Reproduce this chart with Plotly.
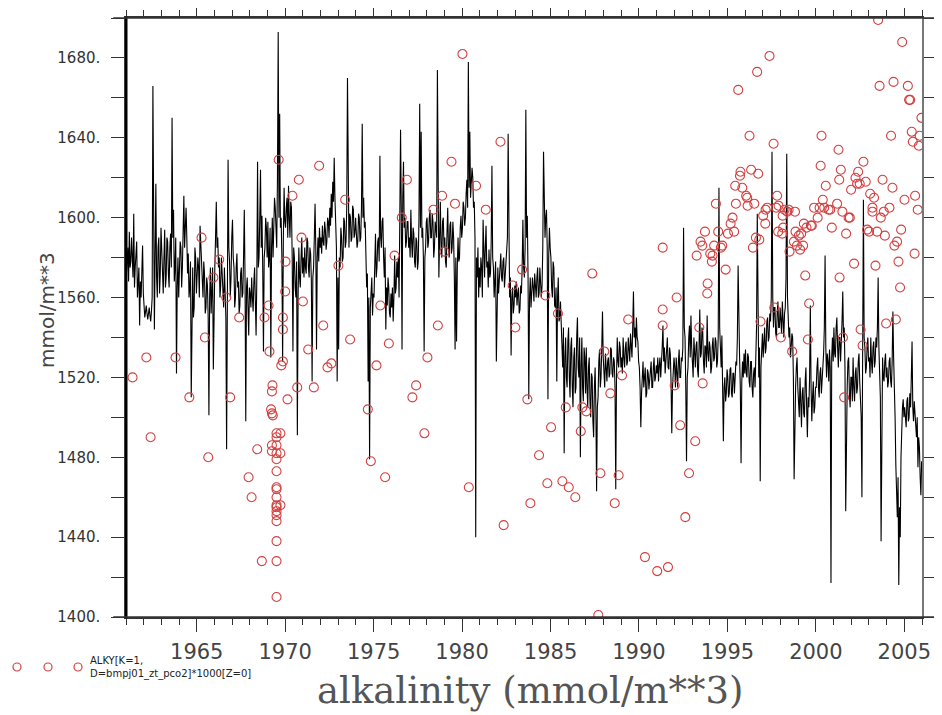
import plotly.graph_objects as go

# model alkalinity, half-monthly values, one row per year 1961..2005
model_start = 1961
model_rows = [
    [1571, 1580, 1585, 1568, 1593, 1575, 1578, 1590, 1582, 1570, 1602, 1565, 1575, 1583, 1588, 1560, 1565, 1575, 1546, 1568, 1560, 1572, 1586, 1562],  # 1961
    [1558, 1550, 1553, 1556, 1552, 1549, 1552, 1555, 1551, 1548, 1553, 1560, 1666, 1575, 1544, 1580, 1617, 1570, 1560, 1585, 1590, 1562, 1572, 1595],
    [1585, 1570, 1562, 1580, 1594, 1565, 1570, 1590, 1588, 1572, 1565, 1585, 1592, 1575, 1650, 1590, 1604, 1568, 1575, 1590, 1522, 1565, 1580, 1560],
    [1570, 1588, 1585, 1565, 1575, 1595, 1611, 1585, 1598, 1605, 1590, 1572, 1582, 1560, 1565, 1578, 1510, 1570, 1575, 1550, 1555, 1585, 1580, 1562],
    [1568, 1580, 1575, 1560, 1596, 1585, 1580, 1565, 1560, 1578, 1572, 1552, 1555, 1570, 1566, 1550, 1501, 1560, 1575, 1552, 1560, 1575, 1524, 1565],  # 1965
    [1575, 1590, 1608, 1585, 1590, 1575, 1580, 1560, 1566, 1580, 1572, 1558, 1555, 1575, 1560, 1550, 1484, 1570, 1629, 1585, 1578, 1560, 1570, 1590],
    [1599, 1580, 1575, 1555, 1560, 1575, 1582, 1565, 1568, 1552, 1556, 1572, 1575, 1560, 1562, 1580, 1604, 1570, 1498, 1565, 1570, 1555, 1541, 1565],
    [1562, 1555, 1570, 1560, 1553, 1568, 1575, 1558, 1541, 1570, 1628, 1575, 1580, 1600, 1624, 1585, 1601, 1575, 1533, 1580, 1585, 1600, 1595, 1580],
    [1598, 1575, 1580, 1595, 1530, 1585, 1600, 1580, 1590, 1610, 1605, 1590, 1585, 1620, 1693, 1600, 1652, 1595, 1600, 1580, 1528, 1590, 1615, 1598],
    [1595, 1605, 1610, 1590, 1616, 1600, 1590, 1608, 1605, 1580, 1533, 1585, 1580, 1565, 1560, 1578, 1491, 1560, 1585, 1570, 1565, 1580, 1590, 1572],  # 1970
    [1580, 1570, 1585, 1575, 1572, 1590, 1588, 1575, 1570, 1585, 1582, 1568, 1518, 1570, 1575, 1590, 1607, 1585, 1534, 1580, 1590, 1578, 1595, 1585],
    [1590, 1582, 1596, 1588, 1586, 1598, 1594, 1584, 1588, 1600, 1598, 1590, 1605, 1596, 1612, 1600, 1618, 1608, 1630, 1610, 1600, 1585, 1518, 1570],
    [1534, 1580, 1575, 1595, 1590, 1578, 1580, 1600, 1598, 1585, 1588, 1605, 1670, 1595, 1585, 1602, 1600, 1588, 1590, 1606, 1604, 1590, 1592, 1600],
    [1595, 1585, 1588, 1602, 1600, 1588, 1590, 1605, 1647, 1600, 1610, 1595, 1598, 1575, 1565, 1572, 1518, 1560, 1479, 1555, 1560, 1570, 1551, 1562],
    [1560, 1575, 1592, 1570, 1575, 1588, 1590, 1578, 1631, 1590, 1585, 1598, 1600, 1580, 1570, 1585, 1544, 1565, 1556, 1570, 1565, 1552, 1550, 1562],  # 1975
    [1555, 1565, 1548, 1560, 1581, 1562, 1565, 1578, 1570, 1580, 1560, 1600, 1644, 1605, 1534, 1610, 1628, 1595, 1600, 1585, 1588, 1598, 1598, 1585],
    [1590, 1580, 1604, 1588, 1580, 1595, 1592, 1578, 1575, 1590, 1588, 1574, 1578, 1600, 1657, 1595, 1643, 1590, 1595, 1580, 1533, 1580, 1585, 1598],
    [1600, 1585, 1588, 1600, 1604, 1590, 1590, 1602, 1598, 1580, 1585, 1598, 1595, 1590, 1674, 1600, 1570, 1590, 1608, 1585, 1580, 1598, 1600, 1585],
    [1590, 1578, 1575, 1592, 1605, 1585, 1580, 1596, 1598, 1582, 1585, 1598, 1590, 1570, 1534, 1580, 1538, 1575, 1590, 1578, 1580, 1595, 1601, 1590],
    [1595, 1608, 1605, 1596, 1600, 1612, 1619, 1605, 1678, 1615, 1643, 1610, 1615, 1625, 1620, 1605, 1608, 1590, 1440, 1580, 1570, 1585, 1560, 1575],  # 1980
    [1565, 1580, 1575, 1560, 1599, 1578, 1570, 1585, 1596, 1575, 1578, 1565, 1584, 1570, 1572, 1588, 1626, 1580, 1575, 1560, 1568, 1578, 1528, 1570],
    [1575, 1562, 1570, 1580, 1582, 1570, 1568, 1578, 1580, 1565, 1572, 1582, 1584, 1590, 1642, 1585, 1560, 1570, 1531, 1560, 1565, 1552, 1556, 1566],
    [1560, 1568, 1556, 1562, 1565, 1552, 1554, 1566, 1562, 1575, 1599, 1575, 1570, 1585, 1654, 1590, 1601, 1570, 1509, 1560, 1570, 1555, 1560, 1570],
    [1565, 1558, 1572, 1562, 1560, 1570, 1575, 1560, 1562, 1575, 1570, 1560, 1566, 1585, 1633, 1595, 1590, 1600, 1604, 1585, 1509, 1580, 1595, 1585],
    [1580, 1565, 1560, 1578, 1575, 1556, 1555, 1565, 1518, 1560, 1570, 1548, 1550, 1558, 1545, 1530, 1525, 1545, 1482, 1530, 1540, 1520, 1515, 1538],  # 1985
    [1545, 1520, 1510, 1535, 1540, 1515, 1505, 1530, 1535, 1512, 1515, 1540, 1550, 1525, 1520, 1540, 1480, 1525, 1540, 1515, 1508, 1535, 1530, 1512],
    [1535, 1515, 1505, 1525, 1530, 1508, 1500, 1522, 1520, 1498, 1490, 1515, 1525, 1505, 1463, 1505, 1510, 1528, 1534, 1515, 1520, 1535, 1553, 1530],
    [1525, 1515, 1532, 1522, 1518, 1528, 1530, 1520, 1522, 1535, 1534, 1522, 1520, 1530, 1528, 1515, 1464, 1520, 1540, 1528, 1525, 1538, 1535, 1525],
    [1530, 1522, 1540, 1530, 1525, 1535, 1538, 1526, 1528, 1540, 1535, 1528, 1542, 1535, 1530, 1545, 1563, 1540, 1545, 1535, 1550, 1540, 1538, 1528],
    [1525, 1515, 1495, 1512, 1520, 1528, 1515, 1522, 1525, 1510, 1512, 1524, 1522, 1514, 1518, 1526, 1528, 1515, 1515, 1525, 1530, 1518, 1520, 1526],  # 1990
    [1522, 1530, 1518, 1526, 1530, 1520, 1525, 1535, 1546, 1528, 1535, 1522, 1528, 1538, 1540, 1525, 1524, 1535, 1532, 1518, 1492, 1515, 1520, 1530],
    [1525, 1515, 1530, 1522, 1515, 1528, 1534, 1520, 1520, 1530, 1528, 1535, 1595, 1545, 1540, 1515, 1478, 1520, 1525, 1540, 1546, 1530, 1551, 1535],
    [1530, 1520, 1540, 1528, 1525, 1536, 1538, 1524, 1520, 1535, 1554, 1530, 1532, 1545, 1543, 1528, 1522, 1536, 1535, 1525, 1551, 1532, 1528, 1538],
    [1535, 1522, 1525, 1536, 1540, 1528, 1530, 1540, 1538, 1525, 1528, 1540, 1615, 1545, 1534, 1525, 1541, 1520, 1488, 1515, 1520, 1508, 1512, 1524],
    [1520, 1510, 1512, 1524, 1525, 1512, 1510, 1522, 1522, 1512, 1518, 1528, 1526, 1540, 1576, 1535, 1530, 1515, 1477, 1518, 1528, 1520, 1532, 1522],  # 1995
    [1534, 1522, 1520, 1532, 1530, 1518, 1515, 1528, 1528, 1515, 1510, 1522, 1525, 1515, 1532, 1545, 1602, 1540, 1520, 1535, 1468, 1525, 1535, 1542],
    [1530, 1542, 1545, 1532, 1535, 1548, 1550, 1538, 1540, 1552, 1548, 1560, 1633, 1560, 1545, 1555, 1555, 1542, 1540, 1552, 1558, 1545, 1545, 1555],
    [1550, 1542, 1558, 1545, 1540, 1552, 1555, 1570, 1632, 1560, 1552, 1540, 1545, 1530, 1535, 1542, 1540, 1520, 1469, 1510, 1515, 1525, 1530, 1515],
    [1510, 1500, 1520, 1505, 1495, 1512, 1515, 1502, 1500, 1518, 1525, 1505, 1490, 1510, 1505, 1520, 1556, 1515, 1498, 1510, 1518, 1502, 1505, 1515],
    [1515, 1525, 1530, 1515, 1510, 1522, 1525, 1512, 1518, 1530, 1532, 1545, 1581, 1535, 1520, 1532, 1528, 1518, 1534, 1525, 1417, 1530, 1540, 1528],  # 2000
    [1545, 1532, 1530, 1545, 1550, 1535, 1525, 1540, 1540, 1528, 1535, 1548, 1563, 1540, 1545, 1525, 1453, 1505, 1515, 1528, 1530, 1512, 1505, 1520],
    [1520, 1508, 1530, 1515, 1508, 1522, 1525, 1512, 1515, 1528, 1532, 1518, 1510, 1500, 1460, 1510, 1609, 1540, 1535, 1522, 1525, 1535, 1540, 1528],
    [1530, 1520, 1540, 1528, 1522, 1535, 1538, 1525, 1528, 1540, 1535, 1545, 1570, 1535, 1525, 1510, 1438, 1515, 1530, 1520, 1518, 1528, 1532, 1520],
    [1525, 1515, 1518, 1528, 1530, 1518, 1515, 1528, 1553, 1530, 1520, 1500, 1476, 1460, 1450, 1470, 1416, 1455, 1440, 1480, 1495, 1505, 1509, 1500],
    [1505, 1495, 1495, 1508, 1510, 1498, 1500, 1512, 1505, 1520, 1538, 1505, 1498, 1508, 1502, 1495, 1490, 1500, 1475, 1490, 1485, 1470, 1461, 1478],  # 2005
]

# observations (decimal year, mmol/m**3)
obs_points = [
    (1961.37, 1520), (1962.15, 1530), (1962.39, 1490), (1963.80, 1530), (1964.58, 1510),
    (1965.27, 1590), (1965.46, 1540), (1965.65, 1480), (1965.94, 1570), (1966.27, 1579),
    (1966.67, 1560), (1966.89, 1510), (1967.40, 1550), (1967.93, 1470), (1968.10, 1460),
    (1968.42, 1484), (1968.68, 1428), (1968.83, 1550), (1969.06, 1556), (1969.11, 1533),
    (1969.20, 1504), (1969.25, 1502), (1969.30, 1501), (1969.25, 1513), (1969.28, 1516),
    (1969.25, 1486), (1969.25, 1483), (1969.51, 1492), (1969.51, 1490), (1969.51, 1486),
    (1969.51, 1482), (1969.51, 1479), (1969.51, 1473), (1969.51, 1465), (1969.51, 1464),
    (1969.51, 1460), (1969.51, 1456), (1969.51, 1455), (1969.51, 1453), (1969.51, 1451),
    (1969.51, 1448), (1969.51, 1438), (1969.51, 1428), (1969.51, 1410), (1969.73, 1492),
    (1969.73, 1482), (1969.73, 1456), (1969.63, 1629), (1969.78, 1526), (1969.87, 1528),
    (1969.87, 1544), (1969.87, 1550), (1970.00, 1563), (1970.02, 1578), (1970.13, 1509),
    (1970.41, 1611), (1970.68, 1515), (1970.77, 1619), (1970.92, 1590), (1971.00, 1558),
    (1971.30, 1534), (1971.62, 1515), (1971.92, 1626), (1972.15, 1546), (1972.39, 1525),
    (1972.61, 1527), (1973.01, 1576), (1973.39, 1609), (1973.67, 1539), (1974.67, 1504),
    (1974.84, 1478), (1975.16, 1526), (1975.38, 1556), (1975.65, 1470), (1975.86, 1537),
    (1976.18, 1581), (1976.59, 1600), (1976.88, 1619), (1977.19, 1510), (1977.40, 1516),
    (1977.87, 1492), (1978.04, 1530), (1978.38, 1604), (1978.63, 1546), (1978.87, 1611),
    (1979.00, 1583), (1979.40, 1628), (1979.60, 1607), (1980.02, 1682), (1980.38, 1465),
    (1980.79, 1616), (1981.34, 1604), (1982.17, 1638), (1982.35, 1446), (1982.86, 1566),
    (1983.01, 1545), (1983.39, 1574), (1983.69, 1509), (1983.86, 1457), (1984.35, 1481),
    (1984.71, 1561), (1984.82, 1467), (1985.03, 1495), (1985.42, 1552), (1985.67, 1468),
    (1985.86, 1505), (1986.03, 1465), (1986.40, 1460), (1986.71, 1493), (1986.80, 1505),
    (1987.02, 1503), (1987.36, 1572), (1987.70, 1401), (1987.82, 1472), (1988.04, 1533),
    (1988.38, 1512), (1988.63, 1457), (1988.85, 1471), (1989.04, 1521), (1989.39, 1549),
    (1990.34, 1430), (1991.03, 1423), (1991.34, 1546), (1991.34, 1554), (1991.34, 1585),
    (1991.64, 1425), (1992.02, 1516), (1992.13, 1560), (1992.33, 1496), (1992.62, 1450),
    (1992.83, 1472), (1993.18, 1488), (1993.26, 1581), (1993.41, 1545), (1993.48, 1588),
    (1993.58, 1586), (1993.60, 1517), (1993.73, 1593), (1993.86, 1562), (1993.88, 1567),
    (1994.03, 1582), (1994.12, 1578), (1994.16, 1581), (1994.25, 1586), (1994.35, 1607),
    (1994.48, 1593), (1994.63, 1585), (1994.71, 1586), (1994.90, 1574), (1995.03, 1592),
    (1995.18, 1597), (1995.29, 1600), (1995.38, 1593), (1995.44, 1616), (1995.48, 1607),
    (1995.61, 1664), (1995.71, 1621), (1995.74, 1623), (1995.84, 1615), (1996.06, 1611),
    (1996.12, 1610), (1996.14, 1606), (1996.25, 1641), (1996.34, 1624), (1996.44, 1585),
    (1996.52, 1607), (1996.61, 1590), (1996.68, 1673), (1996.74, 1622), (1996.80, 1589),
    (1996.87, 1548), (1997.02, 1601), (1997.14, 1597), (1997.16, 1604), (1997.25, 1605),
    (1997.38, 1681), (1997.61, 1637), (1997.65, 1555), (1997.76, 1605), (1997.81, 1611),
    (1997.87, 1593), (1997.89, 1606), (1998.02, 1540), (1998.10, 1592), (1998.12, 1601),
    (1998.15, 1595), (1998.23, 1604), (1998.38, 1603), (1998.46, 1604), (1998.51, 1583),
    (1998.66, 1533), (1998.76, 1588), (1998.82, 1603), (1998.85, 1593), (1998.93, 1586),
    (1999.04, 1591), (1999.11, 1584), (1999.17, 1592), (1999.28, 1586), (1999.32, 1597),
    (1999.40, 1571), (1999.47, 1595), (1999.55, 1539), (1999.62, 1557), (1999.72, 1596),
    (1999.77, 1596), (1999.90, 1605), (2000.10, 1600), (2000.21, 1605), (2000.27, 1626),
    (2000.32, 1641), (2000.39, 1609), (2000.47, 1605), (2000.56, 1616), (2000.72, 1604),
    (2000.81, 1604), (2000.90, 1595), (2001.20, 1607), (2001.28, 1634), (2001.32, 1619),
    (2001.34, 1570), (2001.41, 1624), (2001.50, 1603), (2001.53, 1540), (2001.60, 1510),
    (2001.71, 1592), (2001.85, 1600), (2001.92, 1600), (2001.99, 1614), (2002.16, 1577),
    (2002.24, 1620), (2002.33, 1617), (2002.39, 1623), (2002.48, 1617), (2002.53, 1544),
    (2002.64, 1536), (2002.69, 1628), (2002.82, 1618), (2002.90, 1594), (2003.01, 1593),
    (2003.07, 1612), (2003.20, 1605), (2003.20, 1603), (2003.29, 1610), (2003.37, 1576),
    (2003.46, 1593), (2003.52, 1699), (2003.60, 1666), (2003.67, 1600), (2003.77, 1619),
    (2003.84, 1603), (2003.90, 1591), (2003.97, 1547), (2004.16, 1605), (2004.25, 1641),
    (2004.33, 1615), (2004.39, 1668), (2004.44, 1586), (2004.52, 1549), (2004.59, 1588),
    (2004.67, 1578), (2004.76, 1565), (2004.82, 1594), (2004.88, 1688), (2005.01, 1609),
    (2005.20, 1666), (2005.27, 1659), (2005.33, 1659), (2005.42, 1643), (2005.48, 1638),
    (2005.58, 1582), (2005.61, 1611), (2005.76, 1604), (2005.82, 1636), (2005.87, 1641),
    (2005.97, 1650),
]

year_ticks = [1965, 1970, 1975, 1980, 1985, 1990, 1995, 2000, 2005]
alk_ticks = [1400, 1420, 1440, 1460, 1480, 1500, 1520, 1540, 1560, 1580,
             1600, 1620, 1640, 1660, 1680, 1700]
legend_text = "ALKY[K=1,<br>D=bmpj01_zt_pco2]*1000[Z=0]"

model_x, model_y = [], []
for i, row in enumerate(model_rows):
    n = len(row)
    for k, v in enumerate(row):
        model_x.append(model_start + i + (k + 0.5) / n)
        model_y.append(v)

obs_x = [p[0] for p in obs_points]
obs_y = [p[1] for p in obs_points]

red = 'rgb(212,64,64)'
fig = go.Figure()
fig.add_trace(go.Scatter(x=model_x, y=model_y, mode='lines',
                         line=dict(color='black', width=1.1), showlegend=False))
fig.add_trace(go.Scatter(x=obs_x, y=obs_y, mode='markers', showlegend=False,
                         marker=dict(symbol='circle-open', size=9,
                                     color=red, line=dict(width=1.1))))

# page body adds 8px, so the figure is 8px smaller than the window
fig.update_layout(
    width=934, height=707,
    margin=dict(l=118, r=20, t=10, b=98),
    paper_bgcolor='white', plot_bgcolor='white',
    font=dict(family='DejaVu Sans', color='#333'),
    xaxis=dict(range=[1961, 2006], showgrid=False, zeroline=False, automargin=False,
               tickvals=year_ticks, ticks='outside', ticklen=13, tickwidth=1.3,
               tickcolor='#333', mirror='ticks', showline=True,
               linecolor='#333', linewidth=1.5, ticklabelstandoff=2,
               tickfont=dict(size=21, color='#444'),
               minor=dict(dtick=1, tick0=1961, ticks='outside', ticklen=6,
                          tickwidth=1, tickcolor='#333')),
    yaxis=dict(range=[1400, 1700], showgrid=False, zeroline=False, automargin=False,
               tickvals=alk_ticks,
               ticktext=[f'{v}.' if v % 40 == 0 and v < 1700 else '' for v in alk_ticks],
               ticks='outside', ticklen=13, tickwidth=1.3, tickcolor='#333',
               mirror='ticks', showline=True, linecolor='#777', linewidth=1.5,
               ticklabelstandoff=8, tickfont=dict(size=15, color='#333')),
)

# thick left axis, horizontal axis lines running past the frame
fig.add_shape(type='line', xref='paper', yref='paper', x0=0, x1=0, y0=-0.002, y1=1.002,
              line=dict(color='black', width=3))
for yy in (0, 1):
    fig.add_shape(type='line', xref='paper', yref='paper', x0=-0.016, x1=1.016,
                  y0=yy, y1=yy, line=dict(color='#333', width=1.5))

# legend row at lower left
for px in (17, 48, 78):
    fig.add_shape(type='circle', xref='paper', yref='paper',
                  xsizemode='pixel', ysizemode='pixel',
                  xanchor=(px - 126) / 796, yanchor=(617 - 667) / 599,
                  x0=-4, x1=4, y0=-4, y1=4, line=dict(color=red, width=1.2))
fig.add_annotation(text=legend_text, xref='paper', yref='paper',
                   x=(88 - 126) / 796, y=(617 - 667) / 599, xanchor='left', yanchor='middle',
                   align='left', showarrow=False, font=dict(size=10, color='#222'))

fig.add_annotation(text='alkalinity (mmol/m**3)', xref='paper', yref='paper',
                   x=0.5076, y=(617 - 690) / 599, xanchor='center', yanchor='middle',
                   showarrow=False, font=dict(family='DejaVu Serif', size=37, color='#555'))
fig.add_annotation(text='mmol/m**3', xref='paper', yref='paper', textangle=-90,
                   x=(47 - 126) / 796, y=(617 - 310) / 599, xanchor='center', yanchor='middle',
                   showarrow=False, font=dict(family='DejaVu Sans', size=20, color='#444'))

fig.write_html("out.html")
